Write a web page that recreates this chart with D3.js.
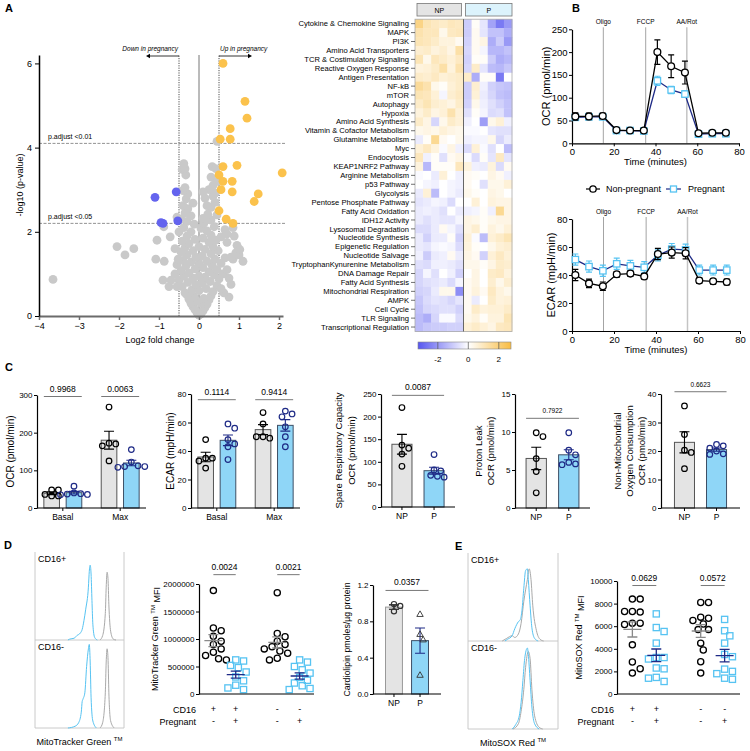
<!DOCTYPE html>
<html>
<head>
<meta charset="utf-8">
<script src="https://cdn.jsdelivr.net/npm/d3@7"></script>
<style>
  body { margin: 0; background: #fff; }
  svg { font-family: "Liberation Sans", Arial, sans-serif; }
</style>
</head>
<body>
<script>
// ---------------- data ----------------
// A: volcano (log2 fold change, -log10 p)
var volcanoGray = [
  [0,0.02],[0.05,0.05],[-0.05,0.08],[0.1,0.12],[-0.1,0.15],[0.15,0.2],[-0.15,0.22],[0.2,0.28],[-0.2,0.3],[0.05,0.3],
  [-0.05,0.35],[0.25,0.38],[-0.25,0.4],[0.12,0.42],[-0.12,0.45],[0.3,0.48],[-0.3,0.5],[0.75,0.45],[0.62,0.55],
  [-0.35,0.55],[0.35,0.58],[0,0.6],[-0.18,0.62],[0.18,0.65],[-0.42,0.7],[0.45,0.72],[-0.08,0.75],[0.08,0.78],
  [-0.28,0.8],[0.28,0.82],[-0.5,0.85],[0.5,0.88],[-0.15,0.9],[0.15,0.92],[-0.38,0.95],[0.38,0.98],[0,0.95],
  [-0.6,1],[0.6,1],[0.7,1.1],[-0.7,0.85],[-0.9,0.85],[0.75,0.9],[0.8,0.75],[-0.55,0.7],[-0.75,0.7],[0.55,0.65],
  [-0.25,1.02],[0.25,1.05],[-0.45,1.08],[0.45,1.1],[-0.1,1.12],[0.1,1.15],[-0.33,1.18],[0.33,1.2],[-0.55,1.22],
  [0.55,1.25],[0,1.25],[-0.2,1.28],[0.2,1.3],[-0.4,1.32],[0.4,1.35],[-0.52,1.35],[0.65,1.38],[-0.08,1.4],[0.08,1.42],
  [-0.3,1.45],[0.3,1.48],[0.85,1.35],[0.8,1.4],[1.1,1.3],[1,1.45],[0.92,1.5],[-0.87,1.3],[-1.08,1.35],
  [-0.45,1.52],[0.48,1.55],[-0.15,1.55],[0.15,1.58],[-0.35,1.62],[0.35,1.65],[0,1.65],[-0.25,1.72],[0.25,1.75],
  [-0.42,1.78],[0.42,1.8],[-0.1,1.82],[0.1,1.85],[-0.3,1.9],[0.3,1.92],[0.55,1.88],[0.7,1.75],[0.95,1.68],
  [1.02,1.58],[0.88,1.9],[-0.6,1.6],[-0.72,1.88],[-1.05,1.8],[-0.5,2],[-2.05,1.65],[-1.85,1.45],[-1.63,1.6],[-3.65,0.87],
  [-0.2,2],[0.2,2.02],[0.05,2.08],[-0.38,2.1],[0.38,2.12],[-0.12,2.18],[0.12,2.2],[-0.3,2.25],[0.3,2.28],[-0.45,2.3],
  [0.1,2.32],[-0.2,2.38],[0.22,2.42],[-0.35,2.45],[0.45,2.4],[-0.55,2.35],[-0.88,2.12],[0.85,2.1],[0.65,2.05],[0.7,1.95],
  [-0.28,2.55],[0.3,2.58],[-0.4,2.62],[0.2,2.62],[-0.15,2.68],[0.4,2.7],[-0.32,2.78],[0.15,2.8],[0.35,2.85],
  [-0.28,2.9],[-0.4,2.98],[0.4,2.92],[0.25,3],[-0.35,3.05],[0.35,3.1],[0.3,3.3],[-0.33,3.35],[-0.42,3.48],
  [-0.35,3.5],[-0.38,3.62],[0.33,3.55],[0.42,3.5],[0.45,4.15],[0.45,3.2],[0.1,2.95]
];
var volcanoDown = [[-1.1,2.82],[-0.57,2.95],[-0.95,2.22],[-0.9,2.2],[-0.53,2.26]];
var volcanoUp = [[0.6,6],[1.15,5.1],[1.2,4.7],[0.78,4.45],[0.78,4.2],[0.53,4.2],[0.95,3.58],[0.6,3.55],[2.08,3.4],
  [0.5,3.35],[0.6,3.2],[0.83,3.2],[0.55,3],[0.83,2.95],[1.48,2.9],[1.38,2.72],[0.5,2.5],[0.68,2.3],[0.85,2.2]];

// A: heatmap
var pathways = ["Cytokine & Chemokine Signaling","MAPK","PI3K","Amino Acid Transporters","TCR & Costimulatory Signaling",
  "Reactive Oxygen Response","Antigen Presentation","NF-kB","mTOR","Autophagy","Hypoxia","Amino Acid Synthesis",
  "Vitamin & Cofactor Metabolism","Glutamine Metabolism","Myc","Endocytosis","KEAP1NRF2 Pathway","Arginine Metabolism",
  "p53 Pathway","Glycolysis","Pentose Phosphate Pathway","Fatty Acid Oxidation","IDH12 Activity","Lysosomal Degradation",
  "Nucleotide Synthesis","Epigenetic Regulation","Nucleotide Salvage","TryptophanKynurenine Metabolism","DNA Damage Repair",
  "Fatty Acid Synthesis","Mitochondrial Respiration","AMPK","Cell Cycle","TLR Signaling","Transcriptional Regulation"];
var heatNP = [
  [1.8,1.1,0.9,0.8,1.0,0.9],[1.2,1.0,1.0,0.3,0.9,1.0],[1.1,1.0,0.8,0.5,0.5,0.2],[0.7,0.8,0.5,0.7,0.4,1.3],
  [1.1,0.3,1.0,0.8,0.6,0.9],[0.5,0.6,0.8,1.3,0.5,1.2],[0.8,0.7,0.9,0.6,0.7,0.8],[1.5,1.2,0.3,0.1,0.6,0.8],
  [1.1,1.0,0.6,-0.2,0.7,0.9],[0.8,1.1,0.7,0.6,0.4,0.8],[0.5,0.8,0.4,0.6,1.2,0.6],[0.8,0.4,-0.8,0.3,0.8,0.6],
  [0.3,0.4,0.3,0.6,0.4,0.3],[-0.4,0.1,1.6,0.2,0.0,0.3],[0.6,0.9,0.5,-0.1,0.4,-0.3],[1.0,-0.3,0.1,-0.6,0.2,0.4],
  [0.5,-1.4,0.1,0.1,0.1,1.0],[-0.1,0.0,-0.4,0.6,0.0,-0.3],[0.0,-0.2,-0.3,0.0,-0.2,-0.3],[-0.4,0.6,-1.3,0.0,-0.2,-0.4],
  [-0.5,-0.4,-0.2,-0.3,-0.7,0.0],[-0.4,-0.3,-0.4,-0.6,0.0,-0.4],[-0.4,-0.6,-0.4,-0.5,-0.5,-0.2],[-0.7,-0.7,-0.4,0.2,-0.2,-0.6],
  [-0.4,-0.9,-0.4,-0.4,0.1,-0.9],[-0.4,-0.5,-0.2,-0.1,-0.2,-0.7],[-0.3,-1.0,-0.4,-0.3,0.2,-0.4],[-0.6,-0.7,-0.3,-0.3,-0.4,-0.6],
  [-0.8,-0.2,-0.6,0.0,-0.3,-0.9],[-0.8,-0.6,-0.5,-0.4,-0.7,-0.2],[-0.9,-0.8,-0.4,0.3,0.3,-2.2],[-1.1,-0.7,-0.5,-0.6,-0.8,-0.5],
  [-1.2,-0.8,-0.7,-0.6,-0.6,-0.9],[-1.3,-1.6,-0.8,-0.1,-0.1,-0.7],[-1.3,-1.1,-1.0,-1.0,-0.9,-0.9]];
var heatP = [
  [-1.0,0.1,-0.5,-1.8,-2.6,-2.0],[-1.0,0.2,-0.5,-1.2,-1.2,-1.6],[-0.9,0.2,0.4,-1.6,-1.0,-2.0],[-0.8,0.2,-0.2,-1.4,-1.4,-1.2],
  [-0.9,0.1,0.1,-1.0,-1.6,-1.4],[-0.8,0.8,-0.5,-1.3,-1.4,-1.1],[0.8,-1.6,0.1,0.1,-2.6,0.0],[-1.0,0.7,-0.3,-0.9,-1.1,-1.2],
  [-1.0,0.6,-0.4,-0.8,-1.2,-1.3],[-0.9,0.3,-0.3,-0.6,-0.9,-1.2],[-0.6,0.1,-0.2,-0.7,-0.6,-1.2],[-0.3,0.0,-1.9,0.3,0.6,-0.3],
  [-0.1,-0.1,0.0,-0.5,-0.6,-0.6],[-0.3,-0.2,-0.2,0.3,-0.8,-0.4],[-0.7,0.6,-0.1,-0.6,0.0,-1.3],[-0.1,-0.7,0.1,-0.5,0.9,-0.5],
  [0.5,-0.3,-0.4,0.5,-0.7,0.2],[0.2,0.1,0.0,0.4,0.2,-0.3],[0.2,0.0,-0.6,0.3,0.3,0.6],[0.3,0.1,0.0,0.4,0.3,0.0],
  [0.0,0.6,0.0,0.5,0.4,0.4],[-0.3,-0.2,0.1,-0.3,1.6,0.4],[0.4,0.3,0.1,0.3,0.4,0.4],[0.4,0.7,0.1,0.5,0.3,0.6],
  [0.6,-0.1,-1.3,0.6,0.8,1.1],[0.5,0.1,0.0,0.3,0.6,0.7],[0.4,0.2,-0.9,0.6,0.9,0.6],[0.3,0.3,0.1,0.4,0.8,0.7],
  [0.0,0.4,0.0,0.8,0.9,0.5],[0.2,0.4,0.0,0.7,0.3,0.7],[0.2,0.5,0.2,0.9,0.5,0.3],[0.2,-0.4,0.0,0.8,0.5,0.6],
  [0.2,0.8,0.5,0.6,0.6,0.8],[0.3,0.5,0.1,0.5,0.5,1.1],[0.6,0.8,0.6,0.4,0.9,1.0]];
var colorTicks = [-2, 0, 2];

// B: Seahorse traces
var seahorseTime = [1.6, 8.1, 14.7, 21.3, 27.8, 34.4, 40.9, 47.5, 54.1, 60.6, 67.2, 73.7];
var injections = [["Oligo", 15], ["FCCP", 35.3], ["AA/Rot", 55]];
var ocrNP = [59, 59, 60, 29, 28, 28, 200, 169, 155, 22, 23, 23];
var ocrNPerr = [8, 7, 6, 2, 2, 2, 27, 25, 25, 2, 2, 2];
var ocrP = [57, 58, 58, 28, 28, 27, 137, 117, 108, 20, 21, 21];
var ocrPerr = [5, 5, 5, 2, 2, 2, 10, 8, 7, 2, 2, 2];
var ecarNP = [40, 34, 32, 40.5, 41, 39, 55, 56, 55.5, 36, 35.5, 35];
var ecarNPerr = [4, 3, 3, 2, 2, 2, 4, 4, 4, 2, 2, 2];
var ecarP = [51, 46, 43, 48, 46.5, 45.5, 54, 58.5, 58, 43.5, 43.5, 43.5];
var ecarPerr = [4, 4, 4, 4, 4, 4, 4, 4, 4, 3.5, 3.5, 3.5];

// C: summary bars
var ocrBasalNP = [48, 48, 36, 32, 32], ocrBasalP = [58, 40, 38, 37, 36, 35];
var ocrMaxNP = [268, 172, 170, 165, 125], ocrMaxP = [155, 122, 112, 110, 110, 108];
var ecarBasalNP = [48, 35, 35, 33, 28], ecarBasalP = [59, 56, 48, 45, 43, 34];
var ecarMaxNP = [67, 59, 50, 49, 50], ecarMaxP = [68, 66, 64, 57, 50, 43];
var spareNP = [220, 137, 130, 117, 90], spareP = [116, 82, 80, 70, 68, 66];
var leakNP = [9.9, 9.4, 6.5, 4.8, 2.0], leakP = [9.9, 7.6, 7.0, 6.0, 5.8, 5.7];
var nonMitoNP = [35.8, 25.8, 20.3, 19.5, 13.8], nonMitoP = [22.3, 21.8, 21.0, 20.0, 19.0, 18.8];

// D: MitoTracker Green
var mtgPlusNP = [1880000, 1200000, 1150000, 1050000, 960000, 900000, 820000, 760000, 700000, 640000, 620000];
var mtgPlusP = [620000, 600000, 520000, 480000, 400000, 310000, 240000, 160000, 110000, 80000];
var mtgMinusNP = [1840000, 1100000, 1040000, 960000, 900000, 860000, 820000, 780000, 740000, 650000, 620000];
var mtgMinusP = [620000, 580000, 500000, 440000, 380000, 300000, 250000, 200000, 150000, 100000, 80000];
var cardioNP = [0.99, 0.97, 0.91], cardioP = [0.88, 0.66, 0.60, 0.21];
// flow histograms: [intensity, count]
var mtgHistPlusP = [[37,0],[39,1],[44,2],[47,5],[51,8],[53,12],[55,22],[57,35],[60,60],[61,78],[62,85],[63,75],[64,45],[65,18],[67,3],[70,0]];
var mtgHistPlusNP = [[73,0],[76,5],[79,30],[80,60],[81,77],[82,70],[83,40],[85,10],[88,1],[91,0]];
var mtgHistMinusP = [[37,0],[45,2],[49,6],[52,18],[53,30],[54,33],[56,40],[58,70],[60,90],[61,95],[62,75],[63,35],[65,8],[69,0]];
var mtgHistMinusNP = [[73,0],[76,6],[79,40],[80,75],[81,90],[82,80],[83,40],[85,8],[89,0]];

// E: MitoSOX Red
var soxPlusNP = [8400, 8400, 7300, 7250, 7300, 6270, 6270, 6150, 4350, 2830, 1850, 2230];
var soxPlusP = [7090, 5880, 5530, 4500, 3230, 3230, 3100, 2300, 2230, 1470, 1110, 1400];
var soxMinusNP = [8100, 8100, 6800, 6700, 6500, 6200, 5700, 5700, 4500, 3900, 2850, 1850];
var soxMinusP = [6600, 5600, 5150, 4500, 3500, 3300, 2200, 2000, 1800, 1400, 1300];
var soxHistPlusP = [[41,0],[44,2],[49,6],[52,14],[56,22],[58,24],[60,35],[62,60],[64,80],[66,82],[67,70],[69,40],[71,15],[74,3],[78,0]];
var soxHistPlusNP = [[38,0],[43,3],[49,6],[52,4],[56,8],[59,20],[62,45],[66,70],[68,82],[70,70],[72,40],[76,12],[80,2],[84,0]];
var soxHistMinusP = [[49,0],[53,5],[57,15],[59,30],[61,55],[63,80],[66,92],[67,85],[69,55],[71,25],[74,6],[79,0]];
var soxHistMinusNP = [[50,0],[56,6],[59,20],[62,45],[64,70],[67,88],[69,80],[71,45],[74,15],[79,2],[83,0]];

// ---------------- drawing ----------------
var NAVY = "#1e2a86", LBLUE = "#56c3f2", BARBLUE = "#8fd6f7", BARGRAY = "#e4e4e4";

var svg = d3.select("body").append("svg")
  .attr("width", 750)
  .attr("height", 751);

function label(x, y, s, size, opts) {
  opts = opts || {};
  var t = svg.append("text")
    .attr("x", x).attr("y", y)
    .attr("font-size", size)
    .attr("fill", "#000")
    .text(s);
  if (opts.anchor) t.attr("text-anchor", opts.anchor);
  if (opts.weight) t.attr("font-weight", opts.weight);
  if (opts.italic) t.attr("font-style", "italic");
  if (opts.rotate) t.attr("transform", "rotate(-90," + x + "," + y + ")").attr("dy", "0.35em");
  return t;
}

function styleAxis(g, size, color) {
  g.attr("font-family", null);
  g.selectAll(".tick text").attr("font-size", size).attr("fill", "#000");
  g.select(".domain").attr("stroke", color || "#000");
  g.selectAll(".tick line").attr("stroke", color || "#000");
}

// panel letters
label(5, 12, "A", 11, {weight: "bold"});
label(572, 12, "B", 11, {weight: "bold"});
label(5, 371, "C", 11, {weight: "bold"});
label(4, 549, "D", 11, {weight: "bold"});
label(455, 550, "E", 11, {weight: "bold"});

// ===== A: volcano =====
var vx = d3.scaleLinear().domain([-4, 2.1]).range([39, 283]);
var vy = d3.scaleLinear().domain([0, 6.2]).range([316, 55]);
var gA = svg.append("g");

gA.append("line")
  .attr("x1", vx(0)).attr("x2", vx(0)).attr("y1", vy(0)).attr("y2", vy(6.2))
  .attr("stroke", "#666").attr("stroke-width", 0.9);
[-0.5, 0.5].forEach(function(v) {
  gA.append("line")
    .attr("x1", vx(v)).attr("x2", vx(v)).attr("y1", vy(0)).attr("y2", vy(6.2))
    .attr("stroke", "#222").attr("stroke-width", 0.8).attr("stroke-dasharray", "1.2,1.2");
});
[[4.1, "p.adjust <0.01"], [2.2, "p.adjust <0.05"]].forEach(function(d) {
  gA.append("line")
    .attr("x1", vx(-4)).attr("x2", vx(2.1) + 2).attr("y1", vy(d[0])).attr("y2", vy(d[0]))
    .attr("stroke", "#777").attr("stroke-width", 0.8).attr("stroke-dasharray", "3,1.5");
  label(48, vy(d[0]) - 4, d[1], 7);
});

gA.selectAll(".gray").data(volcanoGray).enter().append("circle")
  .attr("cx", function(d) { return vx(d[0]); })
  .attr("cy", function(d) { return vy(d[1]); })
  .attr("r", 4.4).attr("fill", "#c9c9c9");
gA.selectAll(".down").data(volcanoDown).enter().append("circle")
  .attr("cx", function(d) { return vx(d[0]); })
  .attr("cy", function(d) { return vy(d[1]); })
  .attr("r", 4.4).attr("fill", "#6464ee");
gA.selectAll(".up").data(volcanoUp).enter().append("circle")
  .attr("cx", function(d) { return vx(d[0]); })
  .attr("cy", function(d) { return vy(d[1]); })
  .attr("r", 4.4).attr("fill", "#fbc24c");

var axA = gA.append("g").attr("transform", "translate(0," + vy(0) + ")")
  .call(d3.axisBottom(vx).tickValues(d3.range(-4, 3)).tickSize(4).tickSizeOuter(0).tickFormat(d3.format("d")));
styleAxis(axA, 9, "#6b6b6b");
axA.select(".domain").attr("stroke-width", 2);
axA.selectAll(".tick line").attr("stroke-width", 1.5);
var ayA = gA.append("g").attr("transform", "translate(" + vx(-4) + ",0)")
  .call(d3.axisLeft(vy).tickValues([0, 2, 4, 6]).tickSize(4).tickSizeOuter(0).tickFormat(d3.format("d")));
styleAxis(ayA, 9);
ayA.select(".domain").attr("stroke-width", 1.5);
label(20, 185, "-log10 (p-value)", 9, {anchor: "middle", rotate: true});
label(160, 343, "Log2 fold change", 9, {anchor: "middle"});

// arrows
label(vx(-0.5) - 1, 51, "Down in pregnancy", 6.5, {anchor: "end", italic: true});
label(vx(0.5) + 1, 51, "Up in pregnancy", 6.5, {italic: true});
gA.append("path")
  .attr("d", "M" + vx(-0.5) + ",56H" + (vx(-0.5) - 30))
  .attr("stroke", "#000").attr("stroke-width", 0.8);
gA.append("path")
  .attr("d", "M" + (vx(-0.5) - 33) + ",56l4,-2.2v4.4z").attr("fill", "#000");
gA.append("path")
  .attr("d", "M" + vx(0.5) + ",56H" + (vx(0.5) + 30))
  .attr("stroke", "#000").attr("stroke-width", 0.8);
gA.append("path")
  .attr("d", "M" + (vx(0.5) + 33) + ",56l-4,-2.2v4.4z").attr("fill", "#000");

// ===== A: heatmap =====
var hx = d3.scaleBand().domain(d3.range(12)).range([415, 512]);
var hy = d3.scaleBand().domain(pathways).range([19.2, 331.5]);
var hcol = d3.scaleLinear().domain([-3.3, 0, 2.8]).range(["#5656f0", "#ffffff", "#f8bc42"]).clamp(true);
var gH = svg.append("g");
var cells = [];
pathways.forEach(function(p, i) {
  heatNP[i].forEach(function(v, j) { cells.push({row: p, col: j, v: v}); });
  heatP[i].forEach(function(v, j) { cells.push({row: p, col: j + 6, v: v}); });
});
gH.selectAll("rect.cell").data(cells).enter().append("rect")
  .attr("class", "cell")
  .attr("x", function(d) { return hx(d.col); })
  .attr("y", function(d) { return hy(d.row); })
  .attr("width", hx.bandwidth() + 0.4)
  .attr("height", hy.bandwidth() + 0.4)
  .attr("fill", function(d) { return hcol(d.v); });
gH.append("rect")
  .attr("x", 415).attr("y", 19.2).attr("width", 97).attr("height", 312.3)
  .attr("fill", "none").attr("stroke", "#aaa").attr("stroke-width", 0.8);
gH.append("line")
  .attr("x1", hx(6)).attr("x2", hx(6)).attr("y1", 19.2).attr("y2", 331.5)
  .attr("stroke", "#666").attr("stroke-width", 1);
gH.selectAll("line.rt").data(pathways).enter().append("line")
  .attr("x1", 411).attr("x2", 415)
  .attr("y1", function(d) { return hy(d) + hy.bandwidth() / 2; })
  .attr("y2", function(d) { return hy(d) + hy.bandwidth() / 2; })
  .attr("stroke", "#333").attr("stroke-width", 0.7);
gH.selectAll("text.rl").data(pathways).enter().append("text")
  .attr("x", 409)
  .attr("y", function(d) { return hy(d) + hy.bandwidth() / 2; })
  .attr("dy", "0.35em")
  .attr("text-anchor", "end")
  .attr("font-size", 7.6)
  .attr("fill", "#000")
  .text(function(d) { return d; });
// strip headers
[["NP", 0, BARGRAY], ["P", 6, "#dcf3fc"]].forEach(function(s) {
  var x0 = hx(s[1]) + 2, x1 = hx(s[1] + 5) + hx.bandwidth() - (s[1] ? 0 : 2);
  gH.append("rect").attr("x", x0).attr("y", 3.5).attr("width", x1 - x0).attr("height", 12.5)
    .attr("fill", s[2]).attr("stroke", "#777").attr("stroke-width", 0.8);
  label((x0 + x1) / 2, 12.5, s[0], 7, {anchor: "middle"});
});
// colour bar
var cbx = d3.scaleLinear().domain([-3.3, 2.8]).range([418, 511]);
var grad = svg.append("defs").append("linearGradient").attr("id", "cb");
hcol.domain().forEach(function(v, i) {
  grad.append("stop").attr("offset", (cbx(v) - 418) / 93).attr("stop-color", hcol.range()[i]);
});
gH.append("rect").attr("x", 418).attr("y", 342).attr("width", 93).attr("height", 7)
  .attr("fill", "url(#cb)").attr("stroke", "#888").attr("stroke-width", 0.6);
colorTicks.forEach(function(t) {
  gH.append("line").attr("x1", cbx(t)).attr("x2", cbx(t)).attr("y1", 342).attr("y2", 349)
    .attr("stroke", "#555").attr("stroke-width", 0.7);
  label(cbx(t), 362, t < 0 ? "-" + Math.abs(t) : String(t), 8, {anchor: "middle"});
});

// ===== B: Seahorse =====
function seahorse(cfg) {
  var g = svg.append("g");
  var x = d3.scaleLinear().domain([0, 80]).range([cfg.left, cfg.right]);
  var y = d3.scaleLinear().domain(cfg.yDomain).range([cfg.bottom, cfg.top]);
  injections.forEach(function(d) {
    g.append("line").attr("x1", x(d[1])).attr("x2", x(d[1])).attr("y1", cfg.top - 2).attr("y2", cfg.bottom)
      .attr("stroke", d[0] === "AA/Rot" ? "#c4c4c4" : "#9a9a9a").attr("stroke-width", d[0] === "AA/Rot" ? 1.5 : 0.9);
    label(x(d[1]), cfg.top - 5, d[0], 6.5, {anchor: "middle"});
  });
  var ax = g.append("g").attr("transform", "translate(0," + cfg.bottom + ")")
    .call(d3.axisBottom(x).tickValues([0, 20, 40, 60, 80]).tickSize(3).tickPadding(2).tickSizeOuter(0));
  styleAxis(ax, 9.5);
  var ay = g.append("g").attr("transform", "translate(" + cfg.left + ",0)")
    .call(d3.axisLeft(y).tickValues(cfg.yTicks).tickSize(3).tickPadding(1.5).tickSizeOuter(0));
  styleAxis(ay, 9.5);
  ax.select(".domain").attr("stroke-width", 1.2);
  ay.select(".domain").attr("stroke-width", 1.2);
  label((cfg.left + cfg.right) / 2, cfg.bottom + 22, "Time (minutes)", 9.5, {anchor: "middle"});
  label(cfg.labelX, (cfg.top + cfg.bottom) / 2, cfg.ylabel, 11, {anchor: "middle", rotate: true});

  var line = d3.line()
    .x(function(d, i) { return x(seahorseTime[i]); })
    .y(function(d) { return y(d); });

  function series(vals, errs, lineCol, errCol, marker) {
    var s = g.append("g");
    s.append("path").datum(vals).attr("d", line)
      .attr("fill", "none").attr("stroke", lineCol).attr("stroke-width", 1.3);
    vals.forEach(function(v, i) {
      var cx = x(seahorseTime[i]);
      s.append("path")
        .attr("d", "M" + (cx - 3) + "," + y(v + errs[i]) + "h6M" + cx + "," + y(v + errs[i]) + "V" + y(v - errs[i]) + "M" + (cx - 3) + "," + y(v - errs[i]) + "h6")
        .attr("stroke", errCol).attr("stroke-width", 1.2).attr("fill", "none");
    });
    if (marker === "circle") {
      s.selectAll("circle").data(vals).enter().append("circle")
        .attr("cx", function(d, i) { return x(seahorseTime[i]); })
        .attr("cy", function(d) { return y(d); })
        .attr("r", 3.4).attr("fill", "#fff").attr("stroke", "#000").attr("stroke-width", 1.3);
    } else {
      s.selectAll("rect").data(vals).enter().append("rect")
        .attr("x", function(d, i) { return x(seahorseTime[i]) - 3.2; })
        .attr("y", function(d) { return y(d) - 3.2; })
        .attr("width", 6.4).attr("height", 6.4)
        .attr("fill", "#fff").attr("stroke", LBLUE).attr("stroke-width", 1.3);
    }
  }
  series(cfg.p, cfg.pErr, NAVY, LBLUE, "square");
  series(cfg.np, cfg.npErr, "#000", "#000", "circle");
}
seahorse({left: 572, right: 739, top: 29.3, bottom: 143.3, yDomain: [0, 250], yTicks: d3.range(0, 251, 50),
  np: ocrNP, npErr: ocrNPerr, p: ocrP, pErr: ocrPerr, ylabel: "OCR (pmol/min)", labelX: 546});
seahorse({left: 572, right: 740, top: 219, bottom: 331, yDomain: [0, 80], yTicks: d3.range(0, 81, 20),
  np: ecarNP, npErr: ecarNPerr, p: ecarP, pErr: ecarPerr, ylabel: "ECAR (mpH/min)", labelX: 551});

// legend
svg.append("line").attr("x1", 586).attr("x2", 600).attr("y1", 189).attr("y2", 189).attr("stroke", "#000").attr("stroke-width", 1.2);
svg.append("circle").attr("cx", 593).attr("cy", 189).attr("r", 3.2).attr("fill", "#fff").attr("stroke", "#000").attr("stroke-width", 1.3);
label(606, 192, "Non-pregnant", 9);
svg.append("line").attr("x1", 666).attr("x2", 681).attr("y1", 189).attr("y2", 189).attr("stroke", NAVY).attr("stroke-width", 1.2);
svg.append("rect").attr("x", 670.5).attr("y", 186).attr("width", 6).attr("height", 6).attr("fill", "#fff").attr("stroke", LBLUE).attr("stroke-width", 1.3);
label(688, 192, "Pregnant", 9);

// ===== helpers for dot layouts =====
function dodge(vals, sy, r, step) {
  var placed = [], out = [];
  vals.forEach(function(v, i) {
    var py = sy(v), cands = [0];
    for (var k = 1; k < 14; k++) cands.push(k * step, -k * step);
    for (var c = 0; c < cands.length; c++) {
      var ok = placed.every(function(p) { return Math.hypot(p[0] - cands[c], p[1] - py) >= 2 * r; });
      if (ok || c === cands.length - 1) { placed.push([cands[c], py]); out[i] = cands[c]; break; }
    }
  });
  return out;
}
function sem(vals) { return d3.deviation(vals) / Math.sqrt(vals.length); }

function bracket(g, x1, x2, yy, text, size) {
  g.append("line").attr("x1", x1).attr("x2", x2).attr("y1", yy).attr("y2", yy)
    .attr("stroke", "#555").attr("stroke-width", 0.8);
  label((x1 + x2) / 2, yy - 5, text, size, {anchor: "middle"});
}

// ===== C: bar charts =====
function barChart(cfg) {
  var g = svg.append("g");
  var y = d3.scaleLinear().domain(cfg.yDomain).range([cfg.bottom, cfg.top]);
  var outer = d3.scaleBand().domain(cfg.cats).range([cfg.left, cfg.right]).paddingInner(cfg.pi).paddingOuter(cfg.po);
  var inner = d3.scaleBand().domain(["NP", "P"]).range([0, outer.bandwidth()]).paddingInner(cfg.ipi).paddingOuter(cfg.ipo);
  var bw = inner.bandwidth();
  cfg.series.forEach(function(s) {
    var x0 = outer(s.cat) + inner(s.grp), cx = x0 + bw / 2;
    var m = d3.mean(s.vals), e = sem(s.vals);
    var isP = s.grp === "P";
    g.append("rect").attr("x", x0).attr("y", y(m)).attr("width", bw).attr("height", y(0) - y(m))
      .attr("fill", isP ? BARBLUE : BARGRAY)
      .attr("stroke", isP ? "#3d4f66" : (cfg.npStroke || "#555")).attr("stroke-width", 1);
    var ec = isP ? NAVY : "#000";
    g.append("path")
      .attr("d", "M" + (cx - 5) + "," + y(m + e) + "h10M" + cx + "," + y(m + e) + "V" + y(m - e) + "M" + (cx - 5) + "," + y(m - e) + "h10")
      .attr("stroke", ec).attr("stroke-width", 1.1).attr("fill", "none");
    var offs = dodge(s.vals, y, cfg.r + 0.2, cfg.r * 1.2);
    s.vals.forEach(function(v, i) {
      if (cfg.triangles && isP) {
        var px = cx + offs[i], py = y(v), t = cfg.r + 0.6;
        g.append("path").attr("d", "M" + px + "," + (py - t) + "L" + (px + t) + "," + (py + t * 0.75) + "L" + (px - t) + "," + (py + t * 0.75) + "Z")
          .attr("fill", "none").attr("stroke", "#333").attr("stroke-width", 0.9);
      } else {
        g.append("circle").attr("cx", cx + offs[i]).attr("cy", y(v)).attr("r", cfg.r)
          .attr("fill", "none").attr("stroke", cfg.triangles ? "#333" : (isP ? NAVY : "#000")).attr("stroke-width", 1.2);
      }
    });
  });
  var ay = g.append("g").attr("transform", "translate(" + cfg.left + ",0)")
    .call(d3.axisLeft(y).tickValues(cfg.yTicks).tickSize(3).tickPadding(1.5).tickSizeOuter(0).tickFormat(cfg.fmt || null));
  styleAxis(ay, cfg.tickSize || 8);
  ay.select(".domain").attr("stroke-width", 1.2);
  g.append("line").attr("x1", cfg.left).attr("x2", cfg.right).attr("y1", cfg.bottom).attr("y2", cfg.bottom)
    .attr("stroke", "#000").attr("stroke-width", 1.2);
  var labels = cfg.cats.length > 1 ? cfg.cats.map(function(c) { return [outer(c) + outer.bandwidth() / 2, c]; })
    : ["NP", "P"].map(function(p) { return [outer(cfg.cats[0]) + inner(p) + bw / 2, p]; });
  labels.forEach(function(l) {
    g.append("line").attr("x1", l[0]).attr("x2", l[0]).attr("y1", cfg.bottom).attr("y2", cfg.bottom + 3)
      .attr("stroke", "#000").attr("stroke-width", 1);
    label(l[0], cfg.bottom + 12, l[1], 8.5, {anchor: "middle"});
  });
  cfg.sig.forEach(function(s) {
    var x0 = outer(s.cat) + inner("NP"), x1 = outer(s.cat) + inner("P") + bw;
    bracket(g, x0, x1, y(s.at), s.text, s.size || 8.5);
  });
  cfg.ylabel.forEach(function(t, i) {
    label(cfg.labelX[i], (cfg.top + cfg.bottom) / 2, t, cfg.labelSize || 10, {anchor: "middle", rotate: true});
  });
}

var twoCat = {pi: 0.3, po: 0.1, ipi: 0.3, ipo: 0.05};
var oneCat = {pi: 0, po: 0, ipi: 0.375, ipo: 0.34};
barChart(Object.assign({left: 37, right: 146, top: 395, bottom: 508, yDomain: [0, 300], yTicks: [0, 100, 200, 300], r: 2.8,
  cats: ["Basal", "Max"], series: [
    {cat: "Basal", grp: "NP", vals: ocrBasalNP}, {cat: "Basal", grp: "P", vals: ocrBasalP},
    {cat: "Max", grp: "NP", vals: ocrMaxNP}, {cat: "Max", grp: "P", vals: ocrMaxP}],
  sig: [{cat: "Basal", at: 296, text: "0.9968"}, {cat: "Max", at: 296, text: "0.0063"}],
  ylabel: ["OCR (pmol/min)"], labelX: [10]}, twoCat));
barChart(Object.assign({left: 191, right: 300, top: 394, bottom: 508, yDomain: [0, 80], yTicks: [0, 20, 40, 60, 80], r: 2.8,
  cats: ["Basal", "Max"], series: [
    {cat: "Basal", grp: "NP", vals: ecarBasalNP}, {cat: "Basal", grp: "P", vals: ecarBasalP},
    {cat: "Max", grp: "NP", vals: ecarMaxNP}, {cat: "Max", grp: "P", vals: ecarMaxP}],
  sig: [{cat: "Basal", at: 76, text: "0.1114"}, {cat: "Max", at: 76, text: "0.9414"}],
  ylabel: ["ECAR (mpH/min)"], labelX: [170]}, twoCat));
barChart(Object.assign({left: 381, right: 455, top: 394, bottom: 507, yDomain: [0, 250], yTicks: d3.range(0, 251, 50), r: 2.8,
  cats: ["all"], series: [{cat: "all", grp: "NP", vals: spareNP}, {cat: "all", grp: "P", vals: spareP}],
  sig: [{cat: "all", at: 247, text: "0.0087"}],
  ylabel: ["Spare Respiratory Capacity", "OCR (pmol/min)"], labelX: [339, 352], labelSize: 9.5}, oneCat));
barChart(Object.assign({left: 515, right: 590, top: 394, bottom: 508, yDomain: [0, 15], yTicks: [0, 5, 10, 15], r: 2.8,
  cats: ["all"], series: [{cat: "all", grp: "NP", vals: leakNP}, {cat: "all", grp: "P", vals: leakP}],
  sig: [{cat: "all", at: 11.8, text: "0.7922", size: 6.5}],
  ylabel: ["Proton Leak", "OCR (pmol/min)"], labelX: [479, 491], labelSize: 9.5}, oneCat));
barChart(Object.assign({left: 661, right: 740, top: 394, bottom: 508, yDomain: [0, 40], yTicks: [0, 10, 20, 30, 40], r: 2.8,
  cats: ["all"], series: [{cat: "all", grp: "NP", vals: nonMitoNP}, {cat: "all", grp: "P", vals: nonMitoP}],
  sig: [{cat: "all", at: 40.8, text: "0.6623", size: 6.5}],
  ylabel: ["Non-Mitochondrial", "Oxygen Consumption", "OCR (pmol/min)"], labelX: [618, 630, 642], labelSize: 9.5}, {pi: 0, po: 0, ipi: 0.375, ipo: 0.42}));

// ===== D/E: flow histograms =====
function histBox(left, right, top, mid, bottom, curves, xlab) {
  var g = svg.append("g");
  var hxs = d3.scaleLinear().domain([0, 100]).range([left, right]);
  var rows = [d3.scaleLinear().domain([0, 100]).range([mid, top]), d3.scaleLinear().domain([0, 100]).range([bottom, mid])];
  [[left, top, left, bottom], [right, top, right, bottom], [left, mid, right, mid], [left, bottom, right, bottom]].forEach(function(l) {
    g.append("line").attr("x1", l[0]).attr("y1", l[1]).attr("x2", l[2]).attr("y2", l[3])
      .attr("stroke", "#c4c4c4").attr("stroke-width", 0.9);
  });
  curves.forEach(function(c) {
    var ys = rows[c.row];
    g.append("path").datum(c.data)
      .attr("d", d3.line().curve(d3.curveMonotoneX)
        .x(function(d) { return hxs(d[0]); })
        .y(function(d) { return ys(d[1]); }))
      .attr("fill", "none").attr("stroke", c.color).attr("stroke-width", 1);
  });
  label(left + 3, top + 10, "CD16+", 9);
  label(left + 3, mid + 10, "CD16-", 9);
  var t = label((left + right) / 2, bottom + 17, xlab + " ", 9, {anchor: "middle"});
  t.append("tspan").attr("font-size", 6).attr("dy", -4).text("TM");
}
histBox(35, 124, 552, 640, 728, [
  {data: mtgHistPlusNP, color: "#a9a9a9", row: 0}, {data: mtgHistPlusP, color: LBLUE, row: 0},
  {data: mtgHistMinusNP, color: "#a9a9a9", row: 1}, {data: mtgHistMinusP, color: LBLUE, row: 1}], "MitoTracker Green");
histBox(468, 558, 553, 641, 729, [
  {data: soxHistPlusNP, color: "#a9a9a9", row: 0}, {data: soxHistPlusP, color: LBLUE, row: 0},
  {data: soxHistMinusNP, color: "#a9a9a9", row: 1}, {data: soxHistMinusP, color: LBLUE, row: 1}], "MitoSOX Red");

// ===== D/E: dot plots =====
function dotPlot(cfg) {
  var g = svg.append("g");
  var y = d3.scaleLinear().domain(cfg.yDomain).range([cfg.bottom, cfg.top]);
  var outer = d3.scaleBand().domain(["+", "-"]).range([cfg.left, cfg.right]).paddingInner(0.3).paddingOuter(0.05);
  var inner = d3.scalePoint().domain(["NP", "P"]).range([0, outer.bandwidth()]).padding(0.5);
  cfg.groups.forEach(function(gr) {
    var cx = outer(gr.cd16) + inner(gr.grp), isP = gr.grp === "P";
    var offs = dodge(gr.vals, y, 3.6, 2.6);
    gr.vals.forEach(function(v, i) {
      if (isP) {
        g.append("rect").attr("x", cx + offs[i] - 3.1).attr("y", y(v) - 3.1).attr("width", 6.2).attr("height", 6.2)
          .attr("fill", "none").attr("stroke", LBLUE).attr("stroke-width", 1.3);
      } else {
        g.append("circle").attr("cx", cx + offs[i]).attr("cy", y(v)).attr("r", 3.1)
          .attr("fill", "none").attr("stroke", "#000").attr("stroke-width", 1.3);
      }
    });
    var m = d3.mean(gr.vals), e = sem(gr.vals);
    g.append("path")
      .attr("d", "M" + (cx - 9) + "," + y(m) + "h18M" + (cx - 5) + "," + y(m + e) + "h10M" + cx + "," + y(m + e) + "V" + y(m - e) + "M" + (cx - 5) + "," + y(m - e) + "h10")
      .attr("stroke", isP ? NAVY : "#8a8a8a").attr("stroke-width", 1.3).attr("fill", "none");
    label(cx, cfg.bottom + 18, gr.cd16, 9, {anchor: "middle"});
    label(cx, cfg.bottom + 30, isP ? "+" : "-", 9, {anchor: "middle"});
  });
  label(cfg.left - 3, cfg.bottom + 19, "CD16", 9, {anchor: "end"});
  label(cfg.left - 3, cfg.bottom + 31, "Pregnant", 9, {anchor: "end"});
  var ay = g.append("g").attr("transform", "translate(" + cfg.left + ",0)")
    .call(d3.axisLeft(y).tickValues(cfg.yTicks).tickSize(3).tickPadding(1.5).tickSizeOuter(0).tickFormat(d3.format("d")));
  styleAxis(ay, 8);
  ay.select(".domain").attr("stroke-width", 1.2);
  g.append("line").attr("x1", cfg.left).attr("x2", cfg.right).attr("y1", cfg.bottom).attr("y2", cfg.bottom)
    .attr("stroke", "#000").attr("stroke-width", 1.2);
  cfg.sig.forEach(function(s) {
    bracket(g, outer(s.cd16) + inner("NP"), outer(s.cd16) + inner("P"), y(s.at), s.text, 8.5);
  });
  var t = label(cfg.labelX, (cfg.top + cfg.bottom) / 2, cfg.ylabel + " ", 9, {anchor: "middle", rotate: true});
  t.append("tspan").attr("font-size", 6).attr("dy", "-0.5em").text("TM");
  t.append("tspan").attr("dy", "0.5em").text(" MFI");
}
dotPlot({left: 199, right: 314, top: 584, bottom: 694, yDomain: [0, 2000000], yTicks: d3.range(0, 2000001, 500000),
  groups: [{cd16: "+", grp: "NP", vals: mtgPlusNP}, {cd16: "+", grp: "P", vals: mtgPlusP},
    {cd16: "-", grp: "NP", vals: mtgMinusNP}, {cd16: "-", grp: "P", vals: mtgMinusP}],
  sig: [{cd16: "+", at: 2170000, text: "0.0024"}, {cd16: "-", at: 2170000, text: "0.0021"}],
  ylabel: "MitoTracker Green", labelX: 155});
dotPlot({left: 617, right: 740, top: 581, bottom: 694, yDomain: [0, 10000], yTicks: d3.range(0, 10001, 2000),
  groups: [{cd16: "+", grp: "NP", vals: soxPlusNP}, {cd16: "+", grp: "P", vals: soxPlusP},
    {cd16: "-", grp: "NP", vals: soxMinusNP}, {cd16: "-", grp: "P", vals: soxMinusP}],
  sig: [{cd16: "+", at: 9600, text: "0.0629"}, {cd16: "-", at: 9600, text: "0.0572"}],
  ylabel: "MitoSOX Red", labelX: 579});

// ===== D: cardiolipin =====
barChart({left: 373, right: 441, top: 585, bottom: 694, yDomain: [0, 1.2], yTicks: [0, 0.4, 0.8, 1.2], r: 2.6,
  fmt: d3.format(".1f"), pi: 0, po: 0, ipi: 0.35, ipo: 0.48, triangles: true, npStroke: "#999",
  cats: ["all"], series: [{cat: "all", grp: "NP", vals: cardioNP}, {cat: "all", grp: "P", vals: cardioP}],
  sig: [{cat: "all", at: 1.14, text: "0.0357"}],
  ylabel: ["Cardiolipin pmoles/\u00b5g protein"], labelX: [347], labelSize: 8.8});
</script>
</body>
</html>
